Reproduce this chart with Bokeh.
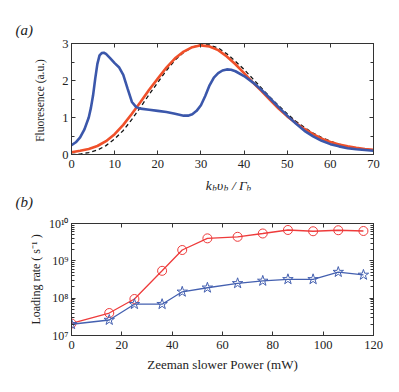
from bokeh.plotting import figure
from bokeh.layouts import column
from bokeh.models import (FixedTicker, LinearAxis, LogAxis, Label, CustomJSTickFormatter, Title)
from bokeh.embed import file_html
from bokeh.resources import INLINE

# ---------------- data: panel (a) ----------------
blue_x = [0, 1, 2, 3, 4, 4.5, 5, 5.5, 6, 6.5, 7, 7.5, 8, 9, 10, 11, 12, 13, 14, 15, 16,
          18, 20, 22, 24, 26, 27, 28, 29, 30, 31, 32, 33, 34, 35, 36, 37, 38, 40, 42,
          44, 46, 48, 50, 52, 54, 56, 58, 60, 62, 64, 66, 68, 70]
blue_y = [0.25, 0.33, 0.46, 0.68, 1.0, 1.26, 1.6, 2.05, 2.45, 2.68, 2.74, 2.75, 2.72, 2.6,
          2.47, 2.36, 2.15, 1.78, 1.42, 1.28, 1.24, 1.21, 1.18, 1.15, 1.1, 1.05, 1.05, 1.09,
          1.18, 1.33, 1.58, 1.87, 2.08, 2.2, 2.27, 2.3, 2.29, 2.25, 2.12, 1.95, 1.75, 1.52,
          1.28, 1.05, 0.84, 0.64, 0.49, 0.37, 0.28, 0.22, 0.17, 0.14, 0.12, 0.1]

red_x = [0, 2, 4, 6, 8, 10, 12, 14, 16, 18, 20, 22, 24, 26, 28, 30, 32, 34, 36, 38, 40,
         42, 44, 46, 48, 50, 52, 54, 56, 58, 60, 62, 64, 66, 68, 70]
red_y = [0.06, 0.1, 0.15, 0.23, 0.36, 0.55, 0.8, 1.1, 1.42, 1.75, 2.05, 2.35, 2.6, 2.78,
         2.9, 2.95, 2.92, 2.82, 2.65, 2.44, 2.2, 1.95, 1.72, 1.48, 1.24, 1.03, 0.85, 0.69,
         0.55, 0.43, 0.34, 0.27, 0.22, 0.18, 0.15, 0.13]

dash_x = [0, 2, 4, 6, 8, 10, 12, 14, 16, 18, 20, 22, 24, 26, 28, 30, 32, 34, 36, 38, 40,
          42, 44, 46, 48, 50, 52, 54, 56, 58, 60, 62, 64, 66, 68, 70]
dash_y = [0.0, 0.01, 0.05, 0.12, 0.24, 0.42, 0.65, 0.95, 1.28, 1.62, 1.95, 2.27, 2.55,
          2.76, 2.9, 2.97, 2.96, 2.88, 2.72, 2.52, 2.3, 2.05, 1.8, 1.55, 1.32, 1.1, 0.9,
          0.73, 0.58, 0.46, 0.36, 0.28, 0.22, 0.17, 0.13, 0.1]

a_xticks = [0, 10, 20, 30, 40, 50, 60, 70]
a_yticks = [0, 1, 2, 3]
a_yminor = [0.5, 1.5, 2.5]

# ---------------- data: panel (b) ----------------
power = [0, 15, 25, 36, 44, 54, 66, 76, 86, 96, 106, 116]
rate_red = [2.1e7, 4.0e7, 9.5e7, 5.4e8, 1.95e9, 4.0e9, 4.4e9, 5.4e9, 6.7e9, 6.2e9, 6.6e9, 6.3e9]
rate_blue = [2.0e7, 2.6e7, 6.9e7, 6.9e7, 1.48e8, 1.9e8, 2.5e8, 2.9e8, 3.2e8, 3.2e8, 5.0e8, 4.2e8]
b_xticks = [0, 20, 40, 60, 80, 100, 120]
b_decades = [7, 8, 9, 10]

SERIF = "Liberation Serif"
AX = "#333333"
TXT = "#222222"
FS = "12.5px"

blank = CustomJSTickFormatter(code="return '';")


def style_axes(p):
    p.grid.visible = False
    p.outline_line_color = AX
    p.outline_line_width = 1
    for ax in p.axis:
        ax.axis_line_color = AX
        ax.major_tick_line_color = AX
        ax.minor_tick_line_color = AX
        ax.major_tick_in = 4
        ax.major_tick_out = 0
        ax.minor_tick_in = 3
        ax.minor_tick_out = 0
        ax.major_label_text_font = SERIF
        ax.major_label_text_font_size = FS
        ax.major_label_text_color = TXT
        ax.axis_label_text_font = SERIF
        ax.axis_label_text_font_style = "normal"
        ax.axis_label_text_color = TXT


def tag(text, standoff):
    return Title(text=text, align="left", offset=-56, text_font=SERIF,
                 text_font_style="italic", text_font_size="15px",
                 text_color=TXT, standoff=standoff)


# ---------------- panel (a) ----------------
p1 = figure(frame_width=302, frame_height=111, x_range=(0, 70), y_range=(0, 3),
            output_backend="svg", toolbar_location=None, title=tag("(a)", 12),
            min_border_left=69, min_border_right=28, min_border_top=43, min_border_bottom=20)
p1.line(dash_x, dash_y, line_color="#111111", line_width=1.3, line_dash="4 3")
p1.line(red_x, red_y, line_color="#f0502a", line_width=2.6)
p1.line(blue_x, blue_y, line_color="#3b57ab", line_width=2.6)

p1.xaxis.ticker = FixedTicker(ticks=a_xticks, minor_ticks=[])
p1.yaxis.ticker = FixedTicker(ticks=a_yticks, minor_ticks=a_yminor)
p1.yaxis.axis_label = "Fluoresence  (a.u.)"
top1 = LinearAxis(ticker=FixedTicker(ticks=a_xticks, minor_ticks=[]), formatter=blank,
                  major_label_standoff=6)
right1 = LinearAxis(ticker=FixedTicker(ticks=a_yticks, minor_ticks=a_yminor), formatter=blank,
                    major_label_standoff=0)
p1.add_layout(top1, "above")
p1.add_layout(right1, "right")
style_axes(p1)
p1.yaxis[0].axis_label_text_font_size = "11.5px"
p1.yaxis[0].axis_label_standoff = 13
p1.yaxis[0].major_label_standoff = 3
p1.xaxis[0].major_label_standoff = 2

# ---------------- strip between panels: x label of (a) and the "(b)" tag ----------------
# frame aligned with the panels' frames; x in page pixels, y in pixels above the strip frame bottom
strip = figure(frame_width=302, frame_height=16, x_range=(69, 371), y_range=(0, 16), title=None,
               x_axis_location=None, y_axis_location=None,
               min_border_left=69, min_border_right=28, min_border_top=0, min_border_bottom=22,
               outline_line_color=None, output_backend="svg", toolbar_location=None)
strip.grid.visible = False
parts = [("k", 203.3, 5.0, "13.5px"), ("b", 209.8, 2.5, "9px"),
         ("υ", 214.5, 5.0, "13.5px"), ("b", 221.3, 2.5, "9px"),
         ("/", 229.5, 5.0, "13.5px"), ("Γ", 236.5, 5.0, "13.5px"), ("b", 244.0, 2.5, "9px")]
for t, xx, yy, fs in parts:
    strip.add_layout(Label(x=xx, y=yy, text=t, text_font=SERIF, text_font_style="italic",
                           text_font_size=fs, text_baseline="alphabetic", text_color=TXT))
strip.add_layout(tag("(b)", 2), "below")

# ---------------- panel (b) ----------------
p2 = figure(frame_width=302, frame_height=112, x_range=(0, 120), y_range=(1e7, 1e10),
            y_axis_type="log", output_backend="svg", toolbar_location=None, title=None,
            min_border_left=71, min_border_right=26, min_border_top=11, min_border_bottom=50)
p2.line(power, rate_red, line_color="#ee3b3b", line_width=1.3)
p2.scatter(power, rate_red, marker="circle", size=9, fill_color=None, line_color="#ee3b3b", line_width=1)
p2.line(power, rate_blue, line_color="#4460b0", line_width=1.3)
p2.scatter(power, rate_blue, marker="star", size=11, fill_color=None, line_color="#4460b0", line_width=1)

ymaj = [10.0 ** d for d in b_decades]
ymin = [m * 10.0 ** d for d in b_decades[:-1] for m in range(2, 10)]
fmt = CustomJSTickFormatter(code="""
const sup = {"0":"\u2070","1":"\u00b9","2":"\u00b2","3":"\u00b3","4":"\u2074",
             "5":"\u2075","6":"\u2076","7":"\u2077","8":"\u2078","9":"\u2079"};
const e = Math.round(Math.log10(tick));
return "10" + String(e).split("").map(c => sup[c]).join("");
""")
p2.xaxis.ticker = FixedTicker(ticks=b_xticks, minor_ticks=[])
p2.yaxis.ticker = FixedTicker(ticks=ymaj, minor_ticks=ymin)
p2.yaxis.formatter = fmt
p2.yaxis.axis_label = "Loading rate ( s\u207b\u00b9 )"
p2.xaxis.axis_label = "Zeeman slower Power (mW)"
top2 = LinearAxis(ticker=FixedTicker(ticks=b_xticks, minor_ticks=[]), formatter=blank,
                  major_label_standoff=0)
right2 = LogAxis(ticker=FixedTicker(ticks=ymaj, minor_ticks=ymin), formatter=blank,
                 major_label_standoff=0)
p2.add_layout(top2, "above")
p2.add_layout(right2, "right")
style_axes(p2)
p2.yaxis[0].axis_label_text_font_size = "12px"
p2.yaxis[0].axis_label_standoff = 3
p2.yaxis[0].major_label_standoff = 3
p2.yaxis[0].major_label_text_font_size = "12px"
p2.xaxis[0].axis_label_text_font_size = "13px"
p2.xaxis[0].axis_label_standoff = 0
p2.xaxis[0].major_label_standoff = 2

layout = column(p1, strip, p2, spacing=0)
open("out.html", "w").write(file_html(layout, INLINE))
